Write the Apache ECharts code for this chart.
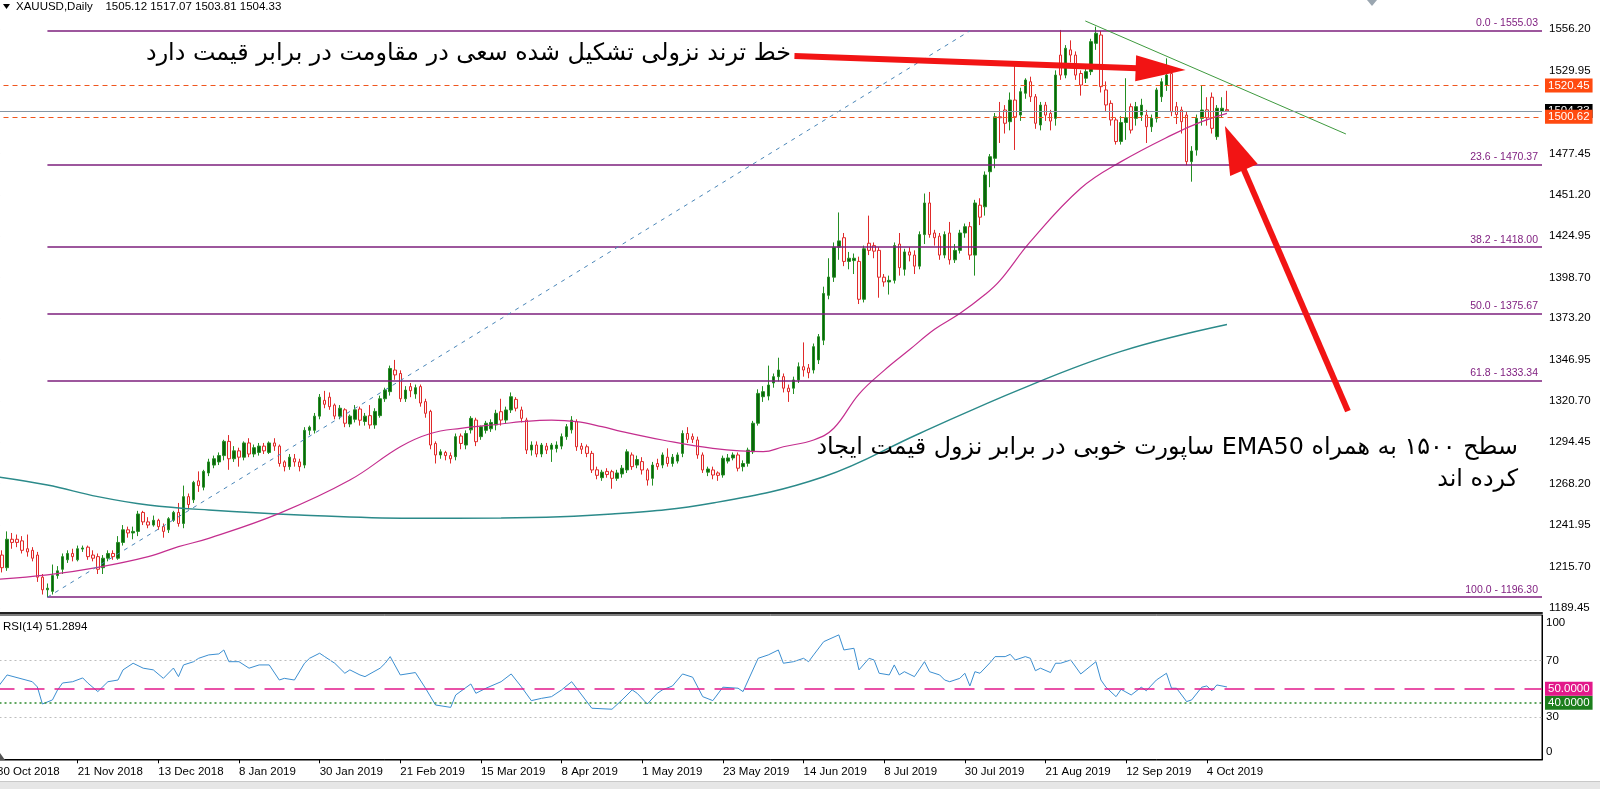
<!DOCTYPE html>
<html><head><meta charset="utf-8">
<script src="https://cdn.jsdelivr.net/npm/echarts@6/dist/echarts.min.js"></script>
<style>html,body{margin:0;padding:0;background:#fff;overflow:hidden}#c{width:1600px;height:789px}</style>
</head><body><div id="c"></div>
<script>
// ---------- DATA ----------
const holidays = ['2018-12-25', '2019-01-01', '2019-04-19'];
const totalSlots = 307; // trading-day slots shown on the time axis (incl. empty right margin)
const tickLabels = ['30 Oct 2018','21 Nov 2018','13 Dec 2018','8 Jan 2019','30 Jan 2019','21 Feb 2019','15 Mar 2019','8 Apr 2019','1 May 2019','23 May 2019','14 Jun 2019','8 Jul 2019','30 Jul 2019','21 Aug 2019','12 Sep 2019','4 Oct 2019'];

const opens = [1227,1223,1215,1233,1233,1232,1227,1226,1223,1209,
1201,1200,1210,1214,1220,1224,1220,1226.8,1228,1223,
1222,1215,1221,1224,1221,1231,1239,1237,1238,1250,
1244,1242,1245,1241,1239,1245,1250,1243,1260,1258,
1270,1266,1275,1280,1282,1286,1295,1284,1289,1285,
1294,1287,1288,1292,1288,1294,1292,1282,1279,1284,
1282,1280,1302,1302,1311,1321,1323,1318,1311,1315,
1306,1309,1315.5,1307.6,1311.3,1305.4,1311.3,1322,1326.5,1340.2,
1338,1322,1329.7,1325,1329.7,1320.2,1314,1293.7,1286.4,1288,
1286,1285.3,1298.4,1292.7,1302.3,1308.5,1298,1302,1303,1305.4,
1313.8,1308.5,1314.9,1321.6,1314.9,1308.5,1289.5,1292.7,1287,1292,
1290,1290.5,1292,1298,1302.3,1307.5,1292,1291.6,1287.4,1277,
1272,1276,1275.8,1271.6,1274.4,1276.9,1286.4,1280,1282.2,1276.9,
1271.6,1281,1280,1285,1281,1282.5,1287.4,1300,1298,1295.9,
1286.4,1275.5,1276.9,1275,1273.7,1282.5,1284.5,1286.4,1279,1281.1,
1288.4,1306.5,1323.3,1323.7,1332,1336,1336,1328.7,1328.7,1333.9,
1342.3,1341.5,1340.2,1346.6,1359.1,1387.5,1399,1418,1424,1409,
1409.5,1409,1385,1420.5,1419,1416,1399,1396,1397,1420,
1404,1415,1413,1406,1426,1446,1427,1425,1413,1427,
1410,1416,1427,1431,1413,1444.6,1443.6,1465.8,1474.3,1500.6,
1504.9,1497.5,1511.2,1501.7,1515.5,1522.8,1513.3,1495.4,1508,1502.8,
1499.6,1539.7,1527,1543,1539.7,1528,1525,1529.2,1547.1,1552.4,
1517.6,1509.1,1498.6,1485,1497,1507,1499.6,1501.7,1501.7,1494.3,
1499.6,1513.3,1520.7,1528,1507,1504.9,1501.7,1472.2,1479.5,1499.6,
1505,1513,1488,1504,1505.12];
const closes = [1223,1215,1233,1231,1231,1226,1225,1221,1209,1201,
1202,1210,1213,1222,1224,1222,1227,1227.5,1222,1221,
1214,1221,1224,1222,1231,1239,1237,1238,1249,1244,
1242,1245,1241,1238,1246,1250,1243,1260,1255,1269,
1267,1276,1282,1284,1286,1295,1284,1289,1285,1294,
1287,1291,1292,1289,1294,1292,1281,1279,1285,1282,
1279,1302,1304,1311,1323,1318.5,1317,1311,1316,1306.5,
1311,1315,1308.4,1311,1305.4,1314,1322,1327.5,1341.2,1337.1,
1322,1327.5,1327.1,1329,1319.3,1312.8,1292.7,1286.4,1288.4,1286,
1284,1298,1293.7,1300,1309.6,1294.8,1304.3,1306.5,1307,1312.8,
1308.5,1314.9,1323.3,1316,1309.6,1289.5,1292.7,1287,1292.7,1289.5,
1292.7,1292.7,1298,1304.3,1308.5,1291.6,1290,1287.4,1276.9,1273.5,
1275.5,1274,1271.6,1275,1278,1288.4,1279,1283.5,1276.9,1270.5,
1280,1279,1286.4,1281,1285,1286.4,1300,1296.3,1296.3,1286.4,
1276.9,1277.5,1273.7,1273.5,1284.3,1284.5,1286.4,1278,1281,1289.5,
1306.5,1325.4,1326.5,1330.7,1336,1340.2,1328.7,1326.5,1333.9,1342.3,
1340.2,1338.5,1355,1361.3,1388.7,1399.1,1418,1422,1409,1411,
1411,1385,1417,1416,1415.5,1399,1396,1397,1419,1405,
1415,1413,1406,1426,1446,1426,1424,1413,1426,1410,
1416,1427,1431,1413,1446,1437,1463.7,1475.3,1500.6,1500,
1496.5,1511.2,1500.6,1516.5,1523.9,1513.3,1496.5,1508,1501.7,1497.9,
1527,1527,1544,1539.7,1527,1520.7,1529.2,1548.2,1553.5,1519.7,
1508.1,1498.6,1484.9,1497,1500,1492.2,1507,1508,1494.3,1499.6,
1517.6,1522.8,1527,1503.8,1502,1497.5,1472.2,1478.9,1499.6,1504.9,
1500,1493.3,1506,1506,1504.33];
const lows = [1221,1212,1213,1227,1228,1224,1222,1219,1206,1198,
1196.3,1198,1208,1211,1218,1219,1219,1225,1220,1219,
1211,1211,1219,1220,1220,1229,1234,1233,1235,1242,
1240,1241,1239,1234,1237,1244,1241,1240,1252,1256,
1263,1264,1273,1278,1280,1283,1277,1282,1279,1283,
1285,1285,1286,1287,1287,1289,1279,1276,1277,1279,
1276,1278,1299,1300,1309,1316,1315,1309,1309,1304,
1304,1307,1305,1305,1303,1303,1310,1320,1324,1334,
1320,1320,1323,1322,1317,1310,1290,1281,1284,1283,
1281,1283,1290,1290,1300,1292,1296,1300,1301,1302,
1305,1306,1313,1314,1307,1287,1286,1285,1285,1287,
1282,1288,1290,1296,1300,1289,1287,1285,1275,1271,
1270,1272,1265,1270,1272,1275,1277,1278,1274,1267,
1267,1277,1278,1279,1279,1281,1285,1294,1294,1284,
1275,1273,1271,1270,1272,1281,1283,1276,1276,1279,
1287,1305,1320,1321,1329,1333,1326,1320,1325,1332,
1336,1335,1338,1344,1356,1385,1396,1410,1406,1404,
1401,1382,1383,1413,1411,1386,1393,1388,1395,1400,
1400,1409,1401,1404,1420,1424,1419,1410,1411,1407,
1408,1414,1424,1410,1400,1432,1438,1456,1468,1484,
1490,1492,1479.6,1498,1512,1510,1493,1492,1498,1492,
1495,1524,1525,1535,1524,1514,1522,1527,1543,1516,
1504,1495,1483,1483,1486,1490,1495,1498,1484,1491,
1497,1510,1517,1501,1496,1490,1470,1459.5,1476,1495,
1495,1490,1486,1500,1503.81];
const highs = [1230,1226,1238,1237,1236,1235,1236,1228,1225,1211,
1205,1217,1216,1224,1226,1227,1229,1229,1229,1226,
1224,1223,1226,1226,1235,1242,1241,1241,1251,1251,
1247,1248,1246,1243,1247,1251,1256,1267,1262,1270,
1276,1277,1284,1286,1288,1296,1299,1292,1291,1295,
1297,1293,1294,1294,1295,1297,1293,1283,1287,1287,
1284,1304,1305,1313,1325,1327,1326,1319,1318,1316,
1312,1318,1317,1313,1318,1316,1324,1329,1343,1346.6,
1340,1330,1332,1331,1331,1322,1315,1295,1290,1289,
1288,1300,1300,1302,1311,1310,1305,1308,1309,1315,
1322,1317,1326,1323,1317,1310,1295,1295,1294,1294,
1294,1295,1300,1306,1311,1309,1294,1293,1289,1279,
1277,1278,1277,1277,1280,1290,1288,1286,1285,1278,
1282,1284,1288,1290.6,1287,1288,1302,1304,1300,1298,
1288,1279,1279,1276,1286,1287,1288,1288,1283,1291,
1308,1328,1330,1343,1338,1348,1338,1331,1336,1345,
1357.7,1344,1357,1363,1393,1411,1421,1440,1427,1415,
1414,1412,1419,1438,1421,1418,1401,1400,1421,1427,
1417,1418,1416,1428,1452,1453,1429,1427,1428,1434,
1420,1429,1433,1434,1448,1449,1466,1477,1503,1510,
1508,1516,1535.5,1519,1525,1526,1515,1510,1510,1505,
1530,1555.6,1546,1549,1542,1530,1531,1550,1557.7,1555,
1523,1511,1500,1501,1525,1509,1510,1512,1505,1502,
1519,1525,1537.6,1532,1510,1507,1504,1482,1502,1520.7,
1513,1516,1508,1513,1517.07];

// moving averages: [bar index, price]
const ema50 = [[0,1207.6],[10,1210.4],[20,1215.2],[30,1222],[36,1228.3],[42,1233.6],[56,1249.4],[70,1270.5],[80,1291.6],[86,1300],[92,1303.3],[100,1306],[104,1307.5],[110,1308.5],[115,1307.5],[120,1304.3],[124,1301.2],[132,1295.9],[142,1290.6],[152,1288.5],[156,1291.6],[162,1295.9],[166,1303.3],[171,1325],[176,1340],[181,1353],[186,1366],[191,1376],[196,1388],[199,1397],[205,1421.5],[215,1455.3],[223,1472.2],[233,1489],[239,1497.5],[244,1502.8]];
const ema200 = [[0,1272.6],[10,1267.4],[20,1260],[30,1254.7],[42,1251.5],[60,1248.4],[82,1246.3],[100,1246.5],[122,1249],[142,1256],[164,1272.6],[183,1300],[203,1328],[223,1352],[244,1369]];

// RSI(14): [bar index, value]
const rsi = [[0,50.4],[2,59.8],[7,55.0],[8,51.3],[9,39.2],[11,42.1],[12,49.1],[13,54.1],[15,55.0],[17,57.7],[18,54.1],[20,48.0],[21,51.5],[22,55.0],[24,56.2],[25,63.4],[27,68.1],[29,64.6],[31,63.4],[33,57.4],[35,64.7],[36,58.6],[37,66.9],[39,69.2],[40,71.6],[42,74.0],[44,74.7],[45,77.5],[46,69.2],[48,69.2],[50,64.6],[52,66.9],[54,66.9],[56,56.2],[57,57.4],[59,56.2],[61,68.1],[62,71.6],[64,75.2],[65,72.8],[67,68.1],[69,61.0],[70,63.4],[72,59.8],[73,58.6],[76,64.6],[77,68.1],[78,72.8],[80,59.8],[83,61.5],[85,50.4],[87,38.5],[90,36.8],[91,45.6],[94,53.4],[95,46.8],[97,50.4],[100,55.0],[102,60.5],[104,51.5],[106,41.6],[108,43.2],[110,44.4],[112,49.2],[114,55.0],[116,45.6],[118,36.2],[122,35.5],[124,42.1],[126,49.2],[127,46.8],[129,39.2],[131,46.8],[132,49.2],[134,52.0],[136,60.5],[138,58.2],[140,44.4],[142,41.6],[144,51.1],[147,50.4],[148,48.0],[151,71.6],[153,74.0],[155,77.5],[156,68.1],[158,69.2],[160,71.6],[161,69.2],[162,74.0],[164,83.4],[167,88.2],[168,77.5],[170,78.7],[171,63.4],[173,71.6],[174,70.4],[175,61.0],[177,59.8],[178,66.9],[179,59.8],[180,62.1],[182,58.6],[184,69.2],[185,62.1],[187,59.8],[188,56.2],[189,55.0],[191,57.4],[192,61.0],[193,52.0],[194,62.1],[195,61.0],[197,68.5],[198,72.8],[200,72.8],[201,74.4],[202,70.4],[204,72.8],[205,71.6],[206,62.8],[207,64.6],[209,61.5],[210,68.1],[211,68.1],[213,70.4],[215,60.5],[218,69.2],[219,56.2],[220,51.1],[222,44.4],[223,49.6],[225,45.6],[227,51.1],[228,48.6],[230,56.2],[232,61.0],[233,50.4],[234,50.4],[236,40.9],[237,42.1],[239,51.1],[240,52.0],[241,48.6],[242,52.7],[244,51.29]];
const rsiCaption = 'RSI(14) 51.2894';

// Fibonacci retracement (anchors + levels)
const fibLow = [10, 1196.30];
const fibHigh = [193, 1555.03];
const fibPct = [0.0, 23.6, 38.2, 50.0, 61.8, 100.0];
const fibVal = [1555.03, 1470.37, 1418.00, 1375.67, 1333.34, 1196.30];
// drawn lines / levels
const trendLine = [[215.9, 1561.3], [267.6, 1489.7]];
const levelLines = [1520.45, 1500.62];
const lastPrice = 1504.33;
const ohlcTitle = [1505.12, 1517.07, 1503.81, 1504.33];
const rsiLevels = [70, 50, 40, 30];
const priceTicks = [1189.45, 1215.70, 1241.95, 1268.20, 1294.45, 1320.70, 1346.95, 1373.20, 1398.70, 1424.95, 1451.20, 1477.45, 1529.95, 1556.20];
const rsiTicks = [0, 30, 70, 100];
const arrows = [
  {from: [158.2, 1539.1], to: [235.8, 1530.2]},
  {from: [268.0, 1314.2], to: [243.6, 1494.8]}
];
const note1 = 'خط ترند نزولی تشکیل شده سعی در مقاومت در برابر قیمت دارد';
const note2a = 'سطح ۱۵۰۰ به همراه EMA50 ساپورت خوبی در برابر نزول قیمت ایجاد';
const note2b = 'کرده اند';

// ---------- BUILD ----------
const MON = ['Jan','Feb','Mar','Apr','May','Jun','Jul','Aug','Sep','Oct','Nov','Dec'];
const categories = [];
{
  let t = Date.UTC(2018, 9, 30);
  while (categories.length < totalSlots) {
    const d = new Date(t);
    const wd = d.getUTCDay();
    const iso = d.toISOString().slice(0, 10);
    if (wd !== 0 && wd !== 6 && holidays.indexOf(iso) < 0)
      categories.push(d.getUTCDate() + ' ' + MON[d.getUTCMonth()] + ' ' + d.getUTCFullYear());
    t += 86400000;
  }
}
const N = categories.length;
const candles = opens.map((o, i) => [o, closes[i], lows[i], highs[i]]);
const FONT = 'Liberation Sans';
const GL = -5.5, GW = 1547.5;
const showTick = (idx, val) => tickLabels.indexOf(val) >= 0 && idx < opens.length;

const chart = echarts.init(document.getElementById('c'), null, {renderer: 'canvas', width: 1600, height: 789});

const fibLines = fibVal.map((v, k) => [
  {coord: [fibLow[0], v], label: {formatter: fibPct[k].toFixed(1) + ' - ' + v.toFixed(2)}},
  {coord: [N - 0.5, v]}
]);
const boxLabel = (txt, bg) => ({show: true, position: 'end', distance: 3, formatter: txt, backgroundColor: bg, color: '#fff', padding: [1, 3, 0, 3], fontFamily: FONT, fontSize: 11.5, lineHeight: 13});

const option = {
  animation: false,
  backgroundColor: '#ffffff',
  grid: [
    {left: GL, width: GW, top: -2, height: 615, containLabel: false, outerBoundsMode: 'none'},
    {left: GL, width: GW, top: 615, height: 145, containLabel: false, outerBoundsMode: 'none', show: true, borderColor: '#000', borderWidth: 1, backgroundColor: 'transparent'}
  ],
  xAxis: [
    {type: 'category', gridIndex: 0, data: categories, boundaryGap: true,
     axisLine: {show: true, lineStyle: {color: '#222', width: 2}}, axisTick: {show: false}, axisLabel: {show: false}, splitLine: {show: false}},
    {type: 'category', gridIndex: 1, data: categories, boundaryGap: true,
     axisLine: {show: true, lineStyle: {color: '#000'}},
     axisTick: {show: true, alignWithLabel: true, interval: showTick, length: 4, lineStyle: {color: '#000'}},
     axisLabel: {show: true, interval: showTick, align: 'left', margin: 6, fontFamily: FONT, fontSize: 11.5, color: '#000', hideOverlap: false},
     splitLine: {show: false}},
    {type: 'value', gridIndex: 0, min: -0.5, max: N - 0.5, show: false, splitLine: {show: false}}
  ],
  yAxis: [
    {type: 'value', gridIndex: 0, position: 'right', min: 1186.3, max: 1575.84, scale: true,
     axisLine: {show: true, lineStyle: {color: '#000'}},
     axisTick: {show: true, length: 3, customValues: priceTicks, lineStyle: {color: '#000'}},
     axisLabel: {show: true, customValues: priceTicks, margin: 7, formatter: v => v.toFixed(2), fontFamily: FONT, fontSize: 11.5, color: '#000'},
     splitLine: {show: false}},
    {type: 'value', gridIndex: 1, position: 'right', min: -0.5, max: 102.3,
     axisLine: {show: true, lineStyle: {color: '#000'}},
     axisTick: {show: false},
     axisLabel: {show: true, customValues: rsiTicks, margin: 4, fontFamily: FONT, fontSize: 11.5, color: '#000',
       formatter: v => v === 100 ? '{a|100}' : (v === 0 ? '{b|0}' : String(v)),
       rich: {a: {fontFamily: FONT, fontSize: 11.5, color: '#000', padding: [9, 0, 0, 0]}, b: {fontFamily: FONT, fontSize: 11.5, color: '#000', padding: [0, 0, 14, 0]}}},
     splitLine: {show: false}}
  ],
  series: [
    {type: 'candlestick', name: 'XAUUSD', xAxisIndex: 0, yAxisIndex: 0, data: candles, barWidth: 3, z: 3,
     itemStyle: {color: '#0B630B', color0: '#FFF6F6', borderColor: '#238E23', borderColor0: '#E02A2A', borderWidth: 1}},
    {type: 'line', name: 'EMA200', xAxisIndex: 2, yAxisIndex: 0, data: ema200, smooth: 0.4, showSymbol: false, z: 4,
     lineStyle: {color: '#2B8A8A', width: 1.4},
     markLine: {silent: true, symbol: 'none', animation: false,
       label: {show: true, position: 'insideEndTop', distance: [4, 2], color: '#7D1A7D', fontFamily: FONT, fontSize: 10.5},
       lineStyle: {color: '#7D1F7D', width: 1.5, type: 'solid'},
       data: fibLines.concat([
         [{coord: fibLow, lineStyle: {color: '#4A86B8', width: 1, type: [4, 5]}, label: {show: false}}, {coord: fibHigh}],
         [{coord: trendLine[0], lineStyle: {color: '#3E9A3E', width: 1, type: 'solid'}, label: {show: false}}, {coord: trendLine[1]}]
       ])}},
    {type: 'line', name: 'EMA50', xAxisIndex: 2, yAxisIndex: 0, data: ema50, smooth: 0.4, showSymbol: false, z: 4,
     lineStyle: {color: '#C42E8E', width: 1.2},
     markLine: {silent: true, symbol: 'none', animation: false,
       data: [
         {yAxis: lastPrice, lineStyle: {color: '#8696A4', width: 1.2, type: 'solid'}, label: boxLabel(lastPrice.toFixed(2), '#000')},
         {yAxis: levelLines[0], lineStyle: {color: '#F0561E', width: 1, type: [5, 4]}, label: boxLabel(levelLines[0].toFixed(2), '#FF4A10')},
         {yAxis: levelLines[1], lineStyle: {color: '#F0561E', width: 1, type: [5, 4]}, label: boxLabel(levelLines[1].toFixed(2), '#FF4A10')}
       ]}},
    {type: 'line', name: 'RSI(14)', xAxisIndex: 1, yAxisIndex: 1, data: rsi, showSymbol: false, z: 4,
     lineStyle: {color: '#3B8ED0', width: 1},
     markLine: {silent: true, symbol: 'none', animation: false,
       data: [
         {yAxis: rsiLevels[0], lineStyle: {color: '#BDBDBD', width: 1, type: [2, 3]}, label: {show: false}},
         {yAxis: rsiLevels[3], lineStyle: {color: '#BDBDBD', width: 1, type: [2, 3]}, label: {show: false}},
         {yAxis: rsiLevels[2], lineStyle: {color: '#2C8A2C', width: 1.5, type: [2, 3]}, label: boxLabel(rsiLevels[2].toFixed(4), '#1C7E1C')},
         {yAxis: rsiLevels[1], lineStyle: {color: '#E2198A', width: 1.5, type: [20, 10]}, label: boxLabel(rsiLevels[1].toFixed(4), '#E2198A')}
       ]}}
  ]
};
chart.setOption(option);

// ---------- annotations (arrows positioned through the chart's own scales) ----------
const gfx = [];
arrows.forEach((a, k) => {
  const p0 = chart.convertToPixel({seriesIndex: 1}, a.from);
  const p1 = chart.convertToPixel({seriesIndex: 1}, a.to);
  const dx = p1[0] - p0[0], dy = p1[1] - p0[1], L = Math.hypot(dx, dy);
  const ux = dx / L, uy = dy / L, nx = -uy, ny = ux;
  const hl = k === 0 ? 50 : 48, hw = k === 0 ? 13 : 15;
  const bx = p1[0] - ux * hl, by = p1[1] - uy * hl;
  gfx.push({type: 'line', z: 50, shape: {x1: p0[0], y1: p0[1], x2: bx + ux * 2, y2: by + uy * 2}, style: {stroke: '#F21414', lineWidth: 6}});
  gfx.push({type: 'polygon', z: 50, shape: {points: [[p1[0], p1[1]], [bx + nx * hw, by + ny * hw], [bx - nx * hw, by - ny * hw]]}, style: {fill: '#F21414'}});
});
const RLE = '\u202B', PDF = '\u202C';
const PFONT = '23.8px "DejaVu Sans"';
const pText = (txt, x, y) => ({type: 'text', z: 60, x: x, y: y, style: {text: RLE + txt + PDF, font: PFONT, fill: '#000', align: 'right', verticalAlign: 'middle', textAlign: 'right', textVerticalAlign: 'middle'}});
gfx.push(pText(note1, 791, 54));
gfx.push(pText(note2a, 1518, 448));
gfx.push(pText(note2b, 1518, 480));
// MT4 captions
gfx.push({type: 'polygon', z: 60, shape: {points: [[3, 4], [10, 4], [6.5, 9]]}, style: {fill: '#000'}});
gfx.push({type: 'text', z: 60, x: 16, y: 7, style: {text: 'XAUUSD,Daily    ' + ohlcTitle.map(v => v.toFixed(2)).join(' '), font: '11.5px "Liberation Sans"', fill: '#000', verticalAlign: 'middle', textVerticalAlign: 'middle'}});
gfx.push({type: 'text', z: 60, x: 3, y: 627, style: {text: rsiCaption, font: '11.5px "Liberation Sans"', fill: '#000', verticalAlign: 'middle', textVerticalAlign: 'middle'}});
gfx.push({type: 'polygon', z: 60, shape: {points: [[1367, 0], [1377, 0], [1372, 6]]}, style: {fill: '#9AA6B0'}});
gfx.push({type: 'polygon', z: 60, shape: {points: [[0, 753], [0, 760], [5, 760]]}, style: {fill: '#555'}});
gfx.push({type: 'rect', z: 1, shape: {x: 0, y: 782, width: 1600, height: 7}, style: {fill: '#E6E6E6'}});
gfx.push({type: 'line', z: 1, shape: {x1: 0, y1: 781.5, x2: 1600, y2: 781.5}, style: {stroke: '#C8C8C8', lineWidth: 1}});
chart.setOption({graphic: {elements: gfx}});
</script>
</body></html>
